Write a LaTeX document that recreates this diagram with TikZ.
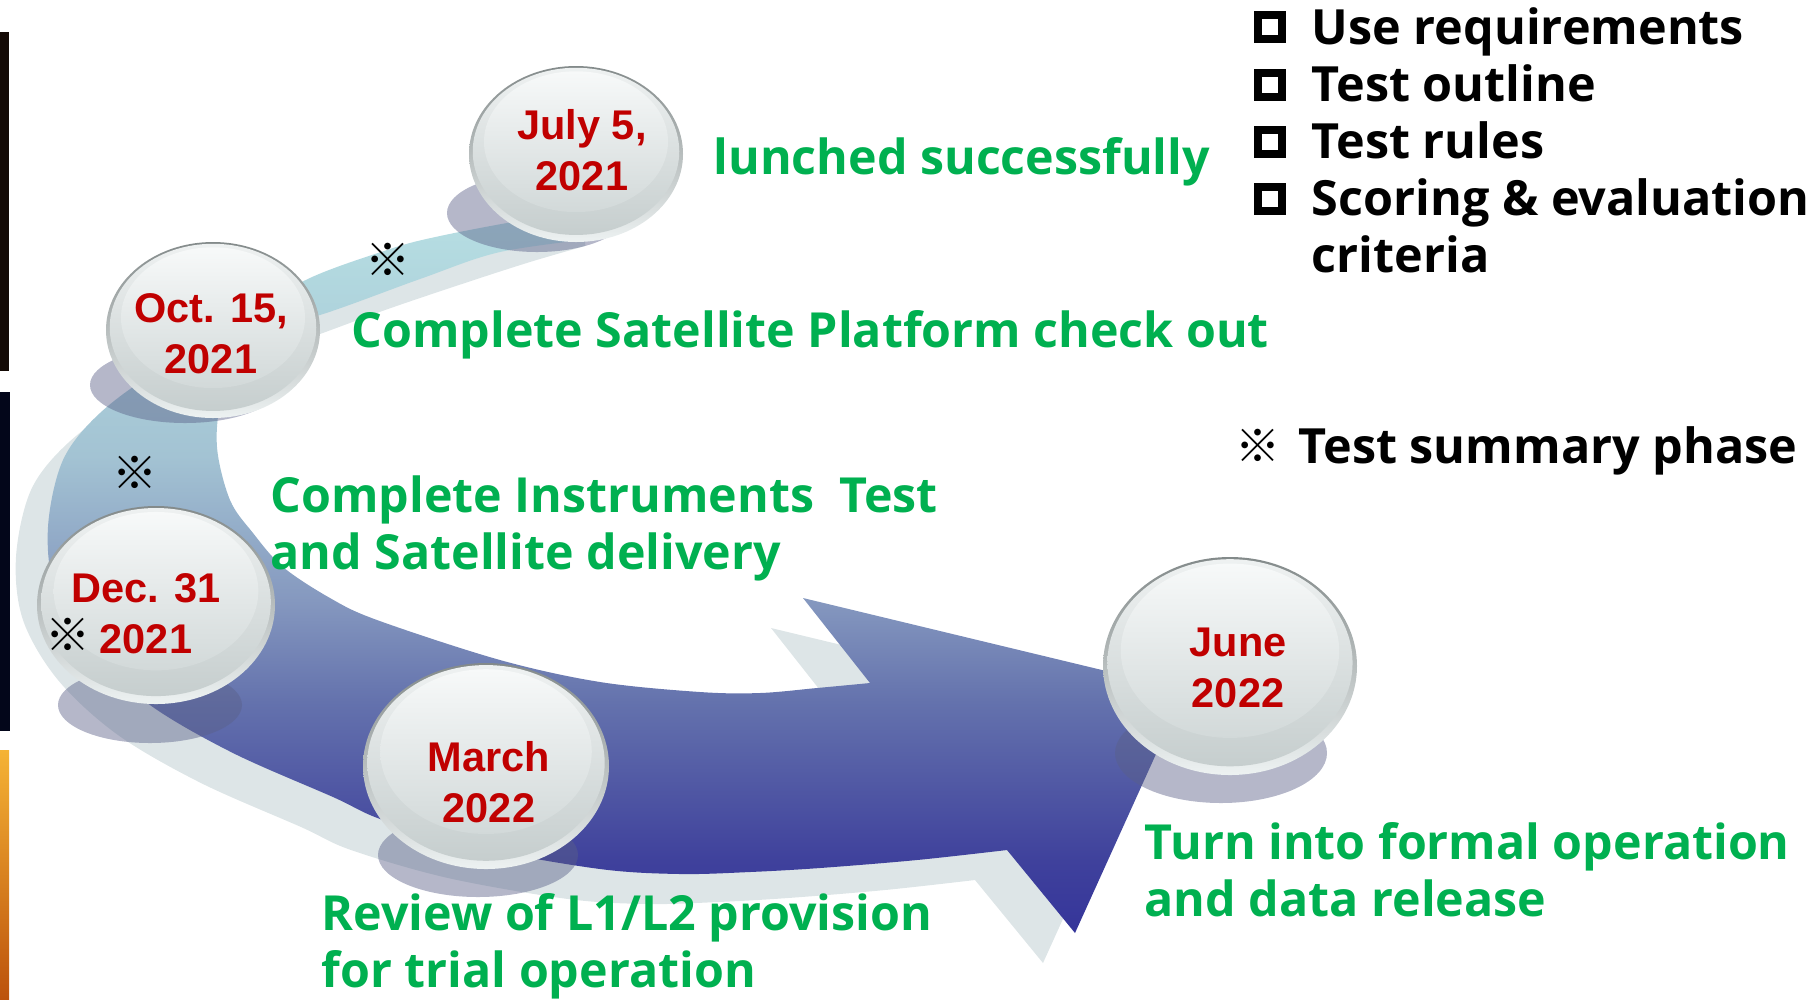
\documentclass[tikz,border=0pt]{standalone}
\usepackage{fontspec}
\setmainfont{Open Sans}
\newfontfamily\datefont{Liberation Sans}
\newfontfamily\cjk{Noto Sans CJK SC}
\usetikzlibrary{positioning}

\definecolor{datered}{HTML}{C00000}
\definecolor{stepgreen}{HTML}{00B050}
\definecolor{bandgray}{HTML}{DDE5E7}
\definecolor{shadowblue}{HTML}{5A6088}
\definecolor{bandA}{HTML}{35359A}
\definecolor{bandB}{HTML}{3F419C}
\definecolor{bandC}{HTML}{6472AD}
\definecolor{bandD}{HTML}{8598BF}
\definecolor{bandE}{HTML}{A3C3D3}
\definecolor{bandF}{HTML}{B7DFE3}
\definecolor{rimtop}{HTML}{838A8A}
\definecolor{rimbottom}{HTML}{EDF2F2}
\definecolor{bodytop}{HTML}{EEF1F1}
\definecolor{bodybottom}{HTML}{C6CECE}
\definecolor{facetop}{HTML}{F7F9F9}
\definecolor{facebottom}{HTML}{D2D9D9}
\definecolor{barbrown}{HTML}{140A05}
\definecolor{barnavy}{HTML}{03061A}
\definecolor{barorangeA}{HTML}{F5B335}
\definecolor{barorangeB}{HTML}{BC520C}

\pgfdeclareverticalshading{bandshade}{100bp}{color(0bp)=(bandA); color(25bp)=(bandA);
  color(30bp)=(bandB); color(41bp)=(bandC); color(48bp)=(bandD); color(58bp)=(bandE);
  color(75bp)=(bandF); color(100bp)=(bandF)}

\tikzset{
  datetext/.style  = {font=\datefont\bfseries\fontsize{11.8}{14.5}\selectfont,
                      text=datered, align=center, inner sep=0pt, anchor=base},
  steptext/.style  = {font=\bfseries\fontsize{13.75}{16.2}\selectfont,
                      text=stepgreen, align=left, inner sep=0pt, anchor=base west},
  listtext/.style  = {font=\bfseries\fontsize{13.8}{16.2}\selectfont,
                      align=left, inner sep=0pt, anchor=base west},
  refmark/.style   = {font=\cjk\fontsize{12.8}{12.8}\selectfont, inner sep=0pt},
  checkbox/.style  = {draw, line width=2.2pt, minimum size=0.24cm, inner sep=0pt},
  discshadow/.style= {fill=shadowblue, opacity=.45},
}

% outline of the curved arrow band
\newcommand{\bandoutline}{plot[smooth,tension=.55] coordinates {(600,210) (530,219) (440,236)
    (387,250) (300,283) (245,330) (222,395) (217,447) (230,500) (253,533) (283,567)
    (330,598) (377,620) (500,660) (600,682) (700,692) (760,693) (817,688) (870,683)}
  -- (803,598) -- (1185,690) -- (1075,933) -- (1007,850)
  -- plot[smooth,tension=.55] coordinates {(1007,850) (917,860) (820,868) (750,872)
    (680,874) (600,869) (480,848) (383,820) (333,797) (233,753) (150,705) (90,650)
    (55,590) (48,527) (63,460) (100,413) (160,370) (240,335) (320,315) (420,279)
    (500,252) (600,238)} -- cycle}
% the pale rim that lies below and left of the band
\newcommand{\rimoutline}{plot[smooth,tension=.55] coordinates {(585,228) (498,249) (408,266)
    (355,280) (268,313) (213,360) (190,425) (185,477) (198,530) (221,563) (251,597)
    (298,628) (345,650) (468,690) (568,712) (668,722) (728,723) (785,718) (838,713)}
  -- (771,628) -- (1153,720) -- (1043,963) -- (975,880)
  -- plot[smooth,tension=.55] coordinates {(975,880) (885,890) (788,898) (718,902)
    (648,904) (568,899) (448,878) (351,850) (301,827) (201,783) (118,735) (58,680)
    (23,620) (16,557) (31,490) (68,443) (128,400) (208,365) (288,345) (388,309)
    (468,282) (530,262) (585,246)} -- cycle}

\begin{document}
\begin{tikzpicture}[x=0.01cm,y=-0.01cm]
  \useasboundingbox (0,0) rectangle (1818,999);

  % ---- strips at the left edge -------------------------------------------
  \fill[barbrown] (0,32) rectangle (9,371);
  \fill[barnavy] (0,392) rectangle (10,731);
  \shade[top color=barorangeA, bottom color=barorangeB] (0,750) rectangle (9,999);

  % ---- arrow band ---------------------------------------------------------
  \fill[bandgray] \rimoutline;
  \shade[shading=bandshade] \bandoutline;

  % ---- milestone discs ----------------------------------------------------
  \foreach \cx/\cy/\rx/\ry/\sx/\sy/\srx/\sry in
      {576/154/107/88/537/213/90/39, 213/330/107/88/185/385/95/38,
       156/605/119/99/150/705/92/38, 486/766/123/103/478/855/100/42,
       1230/666/127/109/1221/753/106/50} {
    \fill[discshadow] (\sx,\sy) ellipse [x radius=\srx, y radius=\sry];
    \shade[top color=rimtop, bottom color=rimbottom]
      (\cx,\cy) ellipse [x radius=\rx, y radius=\ry];
    \shade[top color=bodytop, bottom color=bodybottom]
      (\cx,\cy-0.03*\ry) ellipse [x radius=0.965*\rx, y radius=0.95*\ry];
    \shade[top color=facetop, bottom color=facebottom]
      (\cx,\cy-0.14*\ry) ellipse [x radius=0.86*\rx, y radius=0.80*\ry];
  }

  \node[datetext] (julydate)  at (582,190) {July 5,\\2021};
  \node[datetext] (octdate)   at (211,373) {Oct. 15,\\2021};
  \node[datetext] (decdate)   at (146,653) {Dec. 31\\2021};
  \node[datetext] (marchdate) at (489,822) {March\\2022};
  \node[datetext] (junedate)  at (1238,707) {June\\2022};

  % ---- reference marks ----------------------------------------------------
  \node[refmark] (markA) at (388,260) {※};
  \node[refmark] (markB) at (135,473) {※};
  \node[refmark] (markC) at (68,635) {※};

  % ---- step labels --------------------------------------------------------
  \node[steptext] (launch)    at (713,174)  {lunched successfully};
  \node[steptext] (checkout)  at (351,347)  {Complete Satellite Platform check out};
  \node[steptext] (delivery)  at (270,569)  {Complete Instruments\ \ Test\\and Satellite delivery};
  \node[steptext] (review)    at (321,987)  {Review of L1/L2 provision\\for trial operation};
  \node[steptext] (operation) at (1144,916) {Turn into formal operation\\and data release};

  % ---- list and legend ----------------------------------------------------
  \foreach \yb [count=\i] in {43,101,158,215}
    \node[checkbox] (box\i) at (1270,\yb-16) {};
  \node[listtext] (items) at (1311,272)
    {Use requirements\\Test outline\\Test rules\\Scoring \& evaluation\\criteria};
  \node[refmark] (markD) at (1258,446) {※};
  \node[listtext] (summary) at (1298,463) {Test summary phase};
\end{tikzpicture}
\end{document}
